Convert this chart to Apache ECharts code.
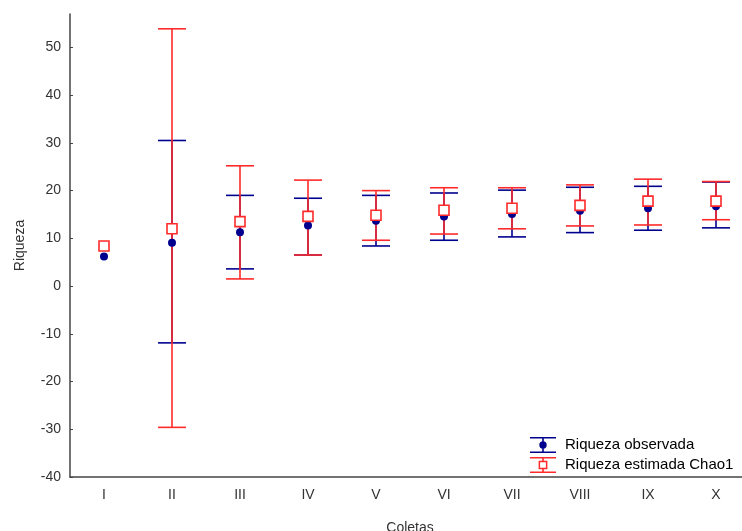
<!DOCTYPE html>
<html>
<head>
<meta charset="utf-8">
<script src="https://cdn.jsdelivr.net/npm/echarts@6/dist/echarts.min.js"></script>
<style>html,body{margin:0;padding:0;background:#fff;}#c{width:742px;height:531px;}</style>
</head>
<body>
<div id="c"></div>
<script>
var categories = ['I','II','III','IV','V','VI','VII','VIII','IX','X'];
var obsMean  = [6.2, 9.1, 11.3, 12.7, 13.7, 14.6, 15.1, 15.8, 16.3, 16.7];
var obsLow   = [null, -11.9, 3.6, 6.5, 8.4, 9.6, 10.3, 11.2, 11.7, 12.2];
var obsHigh  = [null, 30.5, 19.0, 18.4, 19.0, 19.5, 20.1, 20.7, 20.9, 21.8];
var chaoMean = [8.4, 12.0, 13.5, 14.6, 14.85, 15.9, 16.3, 16.9, 17.8, 17.8];
var chaoLow  = [null, -29.6, 1.5, 6.5, 9.6, 10.9, 12.0, 12.6, 12.8, 13.9];
var chaoHigh = [null, 53.9, 25.2, 22.2, 20.0, 20.6, 20.6, 21.2, 22.4, 21.9];
var yTicks = [-40, -30, -20, -10, 0, 10, 20, 30, 40, 50];

var BLUE = '#00008f';
var RED = '#ff2a2a';
var FONT = 'Liberation Sans, Arial, sans-serif';

function barData(lo, hi) {
  var out = [];
  for (var i = 0; i < categories.length; i++) {
    if (lo[i] != null && hi[i] != null) out.push([i, lo[i], hi[i]]);
  }
  return out;
}

function makeRender(color) {
  return function (params, api) {
    var x = api.value(0);
    var lo = api.coord([x, api.value(1)]);
    var hi = api.coord([x, api.value(2)]);
    var half = 14;
    var st = { stroke: color, lineWidth: 1.6 };
    return {
      type: 'group',
      children: [
        { type: 'line', shape: { x1: lo[0], y1: lo[1], x2: hi[0], y2: hi[1] }, style: st },
        { type: 'line', shape: { x1: hi[0] - half, y1: hi[1], x2: hi[0] + half, y2: hi[1] }, style: st },
        { type: 'line', shape: { x1: lo[0] - half, y1: lo[1], x2: lo[0] + half, y2: lo[1] }, style: st }
      ]
    };
  };
}

var obsIcon = 'path://M0 0H26V1.6H0Z M0 14.4H26V16H0Z M12.2 0H13.8V16H12.2Z M9.3 8A3.7 3.7 0 1 1 16.7 8A3.7 3.7 0 1 1 9.3 8Z';
var chaoIcon = 'path://M0 0H26V1.6H0Z M0 14.4H26V16H0Z M12.2 0H13.8V3.8H12.2Z M12.2 12.2H13.8V16H12.2Z M8.6 3.8H17.4V5.3H8.6Z M8.6 10.7H17.4V12.2H8.6Z M8.6 3.8H10.1V12.2H8.6Z M15.9 3.8H17.4V12.2H15.9Z';

var chart = echarts.init(document.getElementById('c'), null, { renderer: 'canvas' });
chart.setOption({
  animation: false,
  backgroundColor: '#fff',
  grid: { left: 70, right: -8, top: 14, bottom: 54, containLabel: false, outerBoundsMode: 'none' },
  legend: {
    left: 530,
    top: 437,
    padding: 0,
    orient: 'vertical',
    itemWidth: 26,
    itemHeight: 16,
    itemGap: 4,
    textStyle: { fontFamily: FONT, fontSize: 15, color: '#000', padding: [0, 0, 0, 4] },
    data: [
      { name: 'Riqueza observada', icon: obsIcon, itemStyle: { color: BLUE, borderWidth: 0 } },
      { name: 'Riqueza estimada Chao1', icon: chaoIcon, itemStyle: { color: RED, borderWidth: 0 } }
    ],
    selectedMode: false
  },
  xAxis: {
    type: 'category',
    data: categories,
    boundaryGap: true,
    name: 'Coletas',
    nameLocation: 'middle',
    nameGap: 44,
    nameTextStyle: { fontFamily: FONT, fontSize: 14, color: '#333' },
    axisLine: { onZero: false, lineStyle: { color: '#444', width: 1.5 } },
    axisTick: { inside: true, length: 3, lineStyle: { color: '#444' } },
    axisLabel: { fontFamily: FONT, fontSize: 14, color: '#333', margin: 11 },
    splitLine: { show: false }
  },
  yAxis: {
    type: 'value',
    min: -40,
    max: 57,
    interval: 10,
    name: 'Riqueza',
    nameLocation: 'middle',
    nameGap: 43,
    nameTextStyle: { fontFamily: FONT, fontSize: 14, color: '#333' },
    axisLine: { show: true, onZero: false, lineStyle: { color: '#444', width: 1.5 } },
    axisTick: { show: true, inside: true, length: 3, lineStyle: { color: '#444' }, customValues: yTicks },
    axisLabel: { fontFamily: FONT, fontSize: 14, color: '#333', margin: 9, customValues: yTicks },
    splitLine: { show: false }
  },
  series: [
    {
      name: 'obsErr', type: 'custom', renderItem: makeRender(BLUE),
      data: barData(obsLow, obsHigh), encode: { x: 0, y: [1, 2] }, z: 2
    },
    {
      name: 'chaoErr', type: 'custom', renderItem: makeRender(RED),
      data: barData(chaoLow, chaoHigh), encode: { x: 0, y: [1, 2] }, z: 3
    },
    {
      name: 'Riqueza observada', type: 'scatter', symbol: 'circle', symbolSize: 8,
      itemStyle: { color: BLUE, opacity: 1 }, data: obsMean, z: 4
    },
    {
      name: 'Riqueza estimada Chao1', type: 'scatter', symbol: 'rect', symbolSize: 10,
      itemStyle: { color: '#fff', borderColor: RED, borderWidth: 1.6, opacity: 1 }, data: chaoMean, z: 5
    }
  ]
});
</script>
</body>
</html>
